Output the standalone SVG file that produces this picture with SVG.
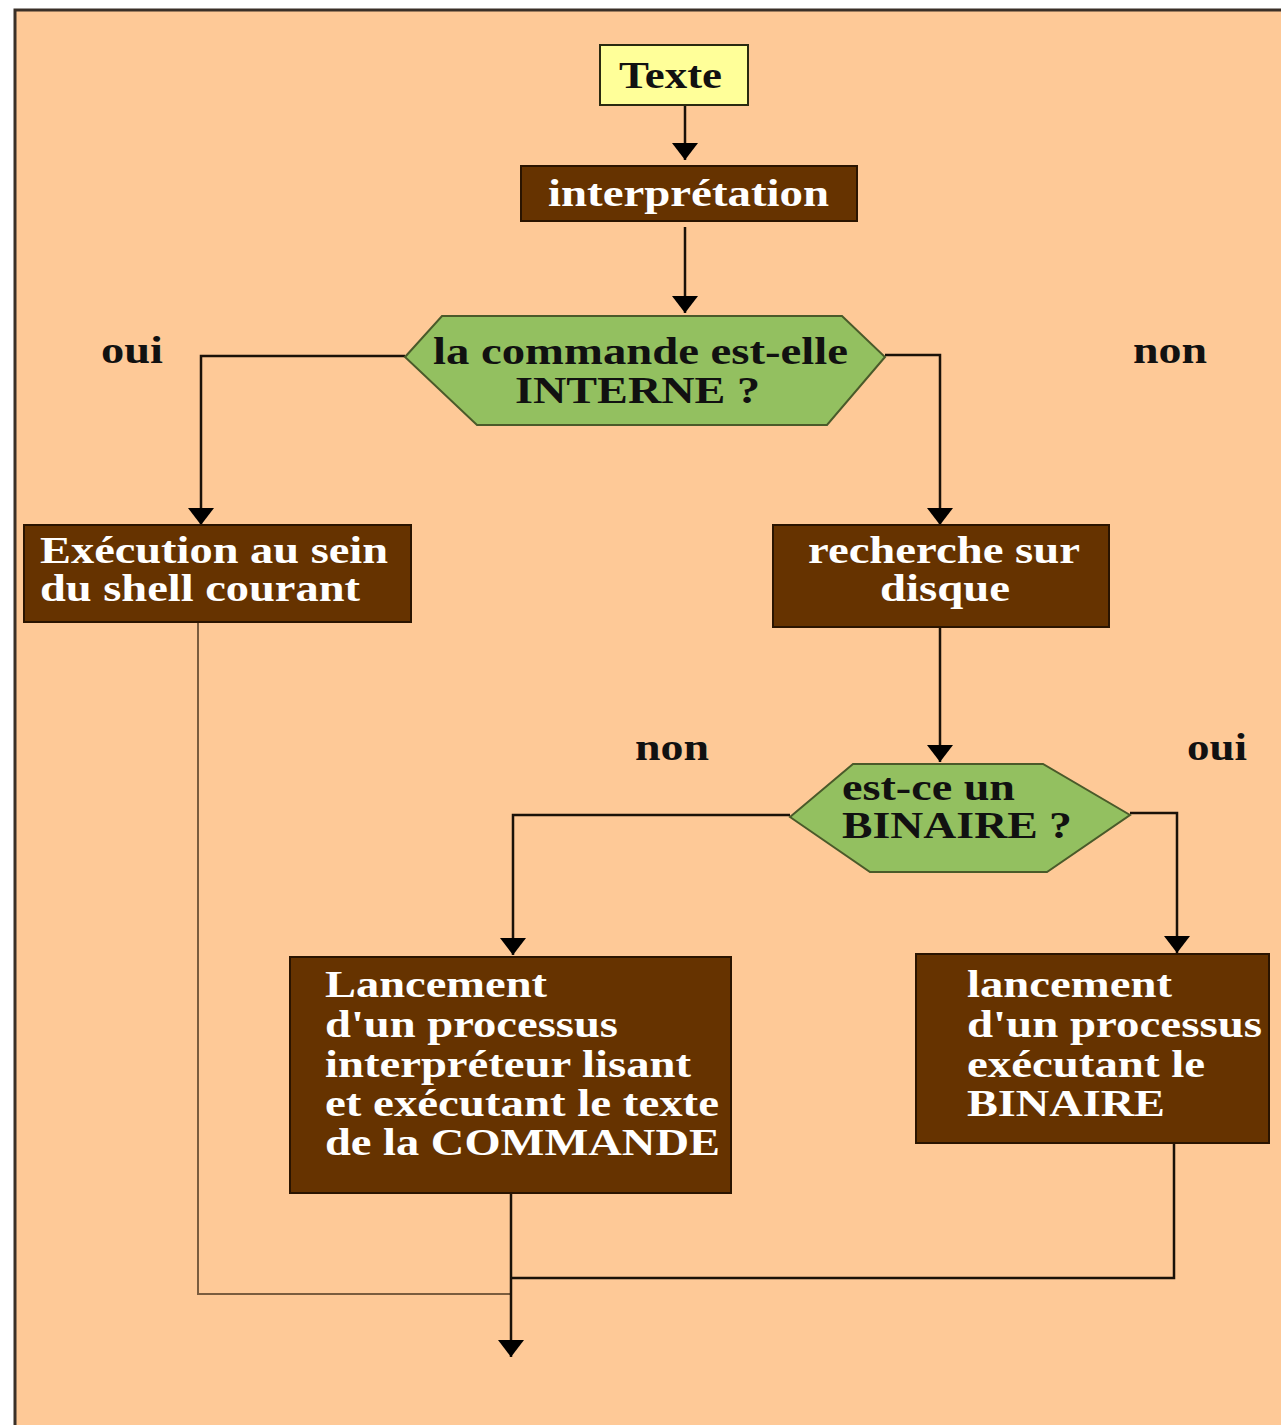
<svg xmlns="http://www.w3.org/2000/svg" width="1281" height="1425" viewBox="0 0 1281 1425">
  <style>
    .lbl { font-family: "Liberation Serif", "Times New Roman", serif; font-weight: bold; font-size: 38px; }
    .dark { fill: #111111; }
    .light { fill: #ffffff; }
    .box { fill: #663300; stroke: #2a1400; stroke-width: 2; }
    .dec { fill: #93c060; stroke: #4a5a2a; stroke-width: 2; }
    .wire { fill: none; stroke: #1a1108; stroke-width: 2.5; }
    .wire-thin { fill: none; stroke: #7a5c3e; stroke-width: 2; }
  </style>
  <defs>
    <marker id="head" markerUnits="userSpaceOnUse" markerWidth="18" markerHeight="28" refX="17" refY="13" orient="auto" viewBox="0 0 18 26">
      <path d="M0,0 L17,13 L0,26 z" fill="#000"/>
    </marker>
  </defs>

  <!-- page -->
  <rect x="0" y="0" width="1281" height="1425" fill="#ffffff"/>
  <rect x="15" y="10" width="1275" height="1425" fill="#fec997" stroke="#3a3028" stroke-width="3"/>

  <!-- connectors -->
  <g id="connectors">
    <path class="wire" d="M685,105 V160" marker-end="url(#head)"/>
    <path class="wire" d="M685,227 V313" marker-end="url(#head)"/>
    <path class="wire" d="M405,356 H201 V525" marker-end="url(#head)"/>
    <path class="wire" d="M885,355 H940 V525" marker-end="url(#head)"/>
    <path class="wire" d="M940,627 V762" marker-end="url(#head)"/>
    <path class="wire" d="M790,815 H513 V955" marker-end="url(#head)"/>
    <path class="wire" d="M1130,813 H1177 V953" marker-end="url(#head)"/>
    <path class="wire-thin" d="M198,622 V1294 H511"/>
    <path class="wire" d="M1174,1143 V1278 H511"/>
    <path class="wire" d="M511,1183 V1357" marker-end="url(#head)"/>
  </g>

  <!-- labels on the branches -->
  <g id="branch-labels">
    <text class="lbl dark" x="101" y="363" textLength="62" lengthAdjust="spacingAndGlyphs">oui</text>
    <text class="lbl dark" x="1133" y="363" textLength="74" lengthAdjust="spacingAndGlyphs">non</text>
    <text class="lbl dark" x="635" y="760" textLength="74" lengthAdjust="spacingAndGlyphs">non</text>
    <text class="lbl dark" x="1187" y="760" textLength="60" lengthAdjust="spacingAndGlyphs">oui</text>
  </g>

  <g id="texte">
    <rect x="600" y="45" width="148" height="60" fill="#ffff99" stroke="#2a2a10" stroke-width="2"/>
    <text class="lbl dark" x="619" y="88" textLength="103" lengthAdjust="spacingAndGlyphs">Texte</text>
  </g>

  <g id="interpretation">
    <rect class="box" x="521" y="166" width="336" height="55"/>
    <text class="lbl light" x="548" y="206" textLength="281" lengthAdjust="spacingAndGlyphs">interprétation</text>
  </g>

  <g id="interne">
    <polygon class="dec" points="405,357 442,316 842,316 885,357 827,425 477,425"/>
    <text class="lbl dark" x="433" y="364" textLength="415" lengthAdjust="spacingAndGlyphs">la commande est-elle</text>
    <text class="lbl dark" x="515" y="403" textLength="245" lengthAdjust="spacingAndGlyphs">INTERNE ?</text>
  </g>

  <g id="shell-courant">
    <rect class="box" x="24" y="525" width="387" height="97"/>
    <text class="lbl light" x="40" y="563" textLength="348" lengthAdjust="spacingAndGlyphs">Exécution au sein</text>
    <text class="lbl light" x="40" y="601" textLength="320" lengthAdjust="spacingAndGlyphs">du shell courant</text>
  </g>

  <g id="recherche">
    <rect class="box" x="773" y="525" width="336" height="102"/>
    <text class="lbl light" x="808" y="563" textLength="272" lengthAdjust="spacingAndGlyphs">recherche sur</text>
    <text class="lbl light" x="880" y="601" textLength="130" lengthAdjust="spacingAndGlyphs">disque</text>
  </g>

  <g id="binaire">
    <polygon class="dec" points="790,817 853,764 1043,764 1130,815 1047,872 870,872"/>
    <text class="lbl dark" x="842" y="800" textLength="173" lengthAdjust="spacingAndGlyphs">est-ce un</text>
    <text class="lbl dark" x="842" y="838" textLength="230" lengthAdjust="spacingAndGlyphs">BINAIRE ?</text>
  </g>

  <g id="interpreteur">
    <rect class="box" x="290" y="957" width="441" height="236"/>
    <text class="lbl light" x="325" y="997" textLength="222" lengthAdjust="spacingAndGlyphs">Lancement</text>
    <text class="lbl light" x="325" y="1037" textLength="293" lengthAdjust="spacingAndGlyphs">d'un processus</text>
    <text class="lbl light" x="325" y="1077" textLength="366" lengthAdjust="spacingAndGlyphs">interpréteur lisant</text>
    <text class="lbl light" x="325" y="1116" textLength="394" lengthAdjust="spacingAndGlyphs">et exécutant le texte</text>
    <text class="lbl light" x="325" y="1155" textLength="395" lengthAdjust="spacingAndGlyphs">de la COMMANDE</text>
  </g>

  <g id="execution-binaire">
    <rect class="box" x="916" y="954" width="353" height="189"/>
    <text class="lbl light" x="967" y="997" textLength="205" lengthAdjust="spacingAndGlyphs">lancement</text>
    <text class="lbl light" x="967" y="1037" textLength="295" lengthAdjust="spacingAndGlyphs">d'un processus</text>
    <text class="lbl light" x="967" y="1077" textLength="238" lengthAdjust="spacingAndGlyphs">exécutant le</text>
    <text class="lbl light" x="967" y="1116" textLength="198" lengthAdjust="spacingAndGlyphs">BINAIRE</text>
  </g>
</svg>
